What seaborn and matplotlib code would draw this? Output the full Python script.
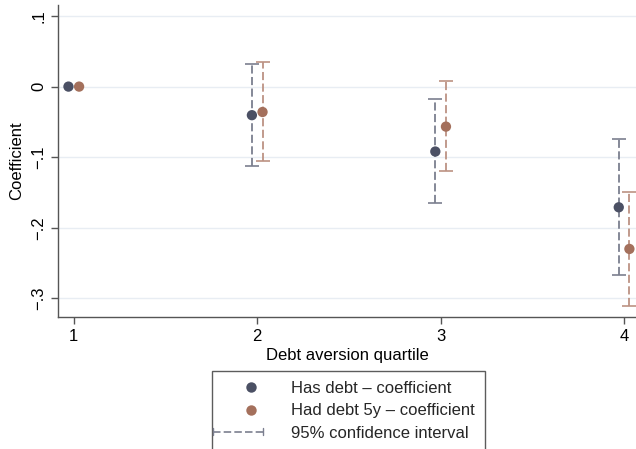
import matplotlib
matplotlib.use("Agg")
import matplotlib.pyplot as plt
from matplotlib.lines import Line2D
from matplotlib.legend_handler import HandlerBase
import pandas as pd
import seaborn as sns

# Coefficients by debt aversion quartile (quartile 1 is the reference group)
quartiles = [1, 2, 3, 4]
has_debt_coef = [0.0, -0.0405, -0.092, -0.171]
has_debt_lo = [0.0, -0.1128, -0.165, -0.267]
has_debt_hi = [0.0, 0.0317, -0.018, -0.0737]
had_debt_coef = [0.0, -0.036, -0.0567, -0.230]
had_debt_lo = [0.0, -0.106, -0.1194, -0.3106]
had_debt_hi = [0.0, 0.0345, 0.0076, -0.150]
series_names = ["Has debt \u2013 coefficient", "Had debt 5y \u2013 coefficient"]
ci_label = "95% confidence interval"
ytick_vals = [0.1, 0.0, -0.1, -0.2, -0.3]
ytick_text = [".1", "0", "\u2212.1", "\u2212.2", "\u2212.3"]

navy = "#4b5064"
brown = "#a4705c"
navy_ci = "#7b7f8f"
brown_ci = "#bc9283"
dash = (0, (4.5, 1.9))

sns.set_theme(style="white")
plt.rcParams["font.family"] = ["Liberation Sans", "DejaVu Sans"]

offset = 0.029
df = pd.concat([
    pd.DataFrame({"quartile": quartiles, "coef": has_debt_coef, "lo": has_debt_lo,
                  "hi": has_debt_hi, "series": series_names[0], "shift": -offset}),
    pd.DataFrame({"quartile": quartiles, "coef": had_debt_coef, "lo": had_debt_lo,
                  "hi": had_debt_hi, "series": series_names[1], "shift": offset}),
], ignore_index=True)
df["xpos"] = df["quartile"] + df["shift"]

W, H = 636, 449
fig = plt.figure(figsize=(W / 100, H / 100), dpi=100)
ax = fig.add_axes([58 / W, 1 - 316.7 / H, (W - 58) / W, (316.7 - 5) / H])

for y in ytick_vals:
    ax.axhline(y, color="#e8edf3", lw=1.0, zorder=0)

# Confidence intervals (the reference quartile has none)
for name, col in zip(series_names, [navy_ci, brown_ci]):
    sub = df[(df["series"] == name) & (df["quartile"] > 1)]
    eb = ax.errorbar(sub["xpos"], sub["coef"],
                     yerr=[sub["coef"] - sub["lo"], sub["hi"] - sub["coef"]],
                     fmt="none", ecolor=col, elinewidth=1.3, capsize=4.8,
                     capthick=1.2, zorder=2)
    eb[2][0].set_linestyle(dash)

sns.scatterplot(data=df, x="xpos", y="coef", hue="series",
                palette=[navy, brown], s=55, edgecolor="none", ax=ax,
                zorder=3, legend=False)

ax.set_xlim(0.914, 4.065)
ax.set_ylim(-0.326, 0.1156)
ax.set_xticks(quartiles)
ax.set_xticklabels([str(q) for q in quartiles])
ax.set_yticks(ytick_vals)
ax.set_yticklabels(ytick_text, rotation=90, va="center")
ax.tick_params(axis="both", which="both", direction="out", length=5, width=1,
               color="#555555", labelsize=12, labelcolor="black", pad=3.5,
               bottom=True, left=True)
for side in ["top", "right"]:
    ax.spines[side].set_visible(False)
for side in ["left", "bottom"]:
    ax.spines[side].set_color("#555555")
    ax.spines[side].set_linewidth(1.0)

ax.set_xlabel("Debt aversion quartile", fontsize=12, labelpad=3, color="black")
ax.set_ylabel("Coefficient", fontsize=12, labelpad=5, color="black")


class DotHandler(HandlerBase):
    def __init__(self, color):
        super().__init__()
        self.color = color

    def create_artists(self, legend, orig_handle, xdescent, ydescent,
                       width, height, fontsize, trans):
        y = height / 2 - ydescent
        x = -xdescent + 0.50 * width
        return [Line2D([x], [y], marker="o", color=self.color, linestyle="none",
                       markersize=7.5, markeredgewidth=0, transform=trans)]


class CIHandler(HandlerBase):
    def create_artists(self, legend, orig_handle, xdescent, ydescent,
                       width, height, fontsize, trans):
        y = height / 2 - ydescent
        x0 = -xdescent - 0.149 * width
        x1 = -xdescent + 0.706 * width
        line = Line2D([x0, x1], [y, y], color=navy_ci, lw=1.2,
                      linestyle=dash, transform=trans)
        c0 = Line2D([x0, x0], [y - 2.5, y + 2.5], color=navy_ci, lw=1.0, transform=trans)
        c1 = Line2D([x1, x1], [y - 2.5, y + 2.5], color=navy_ci, lw=1.0, transform=trans)
        return [line, c0, c1]


h_has = Line2D([], [])
h_had = Line2D([], [])
h_ci = Line2D([], [])
leg = fig.legend([h_has, h_had, h_ci], series_names + [ci_label],
                 loc="upper left", bbox_to_anchor=(211.7 / W, 1 - 371 / H),
                 frameon=True, fancybox=False, edgecolor="#333333", fontsize=12,
                 handlelength=3.5, handletextpad=0.65, labelspacing=0.44,
                 borderpad=0.6, borderaxespad=0,
                 handler_map={h_has: DotHandler(navy), h_had: DotHandler(brown),
                              h_ci: CIHandler()})
leg.get_frame().set_linewidth(1.0)

fig.savefig("out.png", dpi=100)
